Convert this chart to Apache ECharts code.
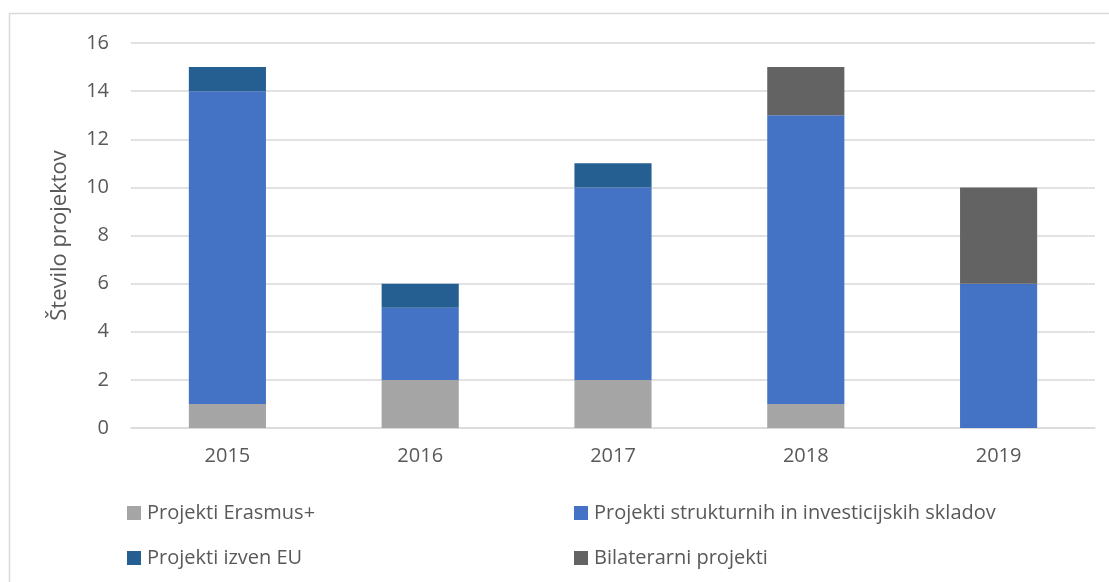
<!DOCTYPE html>
<html>
<head>
<meta charset="utf-8">
<script src="https://cdn.jsdelivr.net/npm/echarts@6/dist/echarts.min.js"></script>
<style>html,body{margin:0;padding:0;background:#fff}#c{width:1109px;height:582px}</style>
</head>
<body>
<div id="c"></div>
<script>
var categories = ['2015', '2016', '2017', '2018', '2019'];
var seriesNames = ['Projekti Erasmus+', 'Projekti strukturnih in investicijskih skladov', 'Projekti izven EU', 'Bilaterarni projekti'];
var erasmus = [1, 2, 2, 1, 0];
var strukturni = [13, 3, 8, 12, 6];
var izvenEU = [1, 1, 1, 0, 0];
var bilateralni = [0, 0, 0, 2, 4];
var yTicks = [0, 2, 4, 6, 8, 10, 12, 14, 16];
var colors = ['#a5a5a5', '#4472c4', '#255e91', '#636363'];

var font = 'Open Sans';
var txt = '#595959';
var chart = echarts.init(document.getElementById('c'));
function mkSeries(name, data, color) {
  return { name: name, type: 'bar', stack: 'a', data: data, barWidth: '40%',
    itemStyle: { color: color }, emphasis: { disabled: true } };
}
function mkLegend(name, left, top) {
  return { data: [name], left: left, top: top, itemWidth: 14, itemHeight: 14, itemGap: 0,
    icon: 'rect', selectedMode: false,
    textStyle: { color: txt, fontFamily: font, fontSize: 20, padding: [0, 0, 0, 1] } };
}
chart.setOption({
  animation: false,
  graphic: [{ type: 'rect', shape: { x: 9.5, y: 13.5, width: 1200, height: 700 },
    style: { fill: 'none', stroke: '#d9d9d9', lineWidth: 1.5 }, silent: true, z: -1 }],
  grid: { left: 131, right: 14, top: 43, bottom: 154 },
  legend: [
    mkLegend(seriesNames[0], 122, 498),
    mkLegend(seriesNames[1], 569, 498),
    mkLegend(seriesNames[2], 122, 543),
    mkLegend(seriesNames[3], 569, 543)
  ],
  xAxis: { type: 'category', data: categories,
    axisLine: { lineStyle: { color: '#d9d9d9', width: 1.5 } }, axisTick: { show: false },
    axisLabel: { color: txt, fontFamily: font, fontSize: 20, margin: 18 } },
  yAxis: { type: 'value', min: yTicks[0], max: yTicks[yTicks.length - 1], interval: yTicks[1] - yTicks[0],
    name: 'Število projektov', nameLocation: 'middle', nameGap: 60, nameRotate: 90,
    nameTextStyle: { color: txt, fontFamily: font, fontSize: 22 },
    axisLine: { show: false }, axisTick: { show: false },
    splitLine: { lineStyle: { color: '#d9d9d9', width: 1.5 } },
    axisLabel: { color: txt, fontFamily: font, fontSize: 20, margin: 22 } },
  series: [
    mkSeries(seriesNames[0], erasmus, colors[0]),
    mkSeries(seriesNames[1], strukturni, colors[1]),
    mkSeries(seriesNames[2], izvenEU, colors[2]),
    mkSeries(seriesNames[3], bilateralni, colors[3])
  ]
});
</script>
</body>
</html>
